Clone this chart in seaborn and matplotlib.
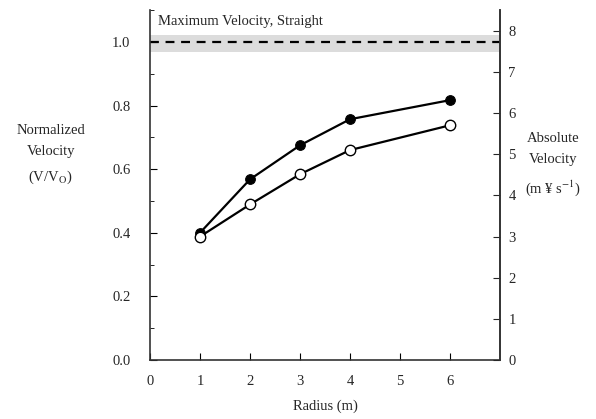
import numpy as np
import pandas as pd
import seaborn as sns
import matplotlib.pyplot as plt
from matplotlib.ticker import MultipleLocator

# values
radius = [1, 2, 3, 4, 6]
filled_vel = [0.40, 0.568, 0.675, 0.757, 0.817]
open_vel = [0.388, 0.489, 0.584, 0.660, 0.738]
max_straight = 1.0
band_low, band_high = 0.968, 1.022
abs_per_norm = 7.73  # m/s that equals normalized 1.0

sns.set_style("ticks")
plt.rcParams['font.family'] = ['Liberation Serif', 'DejaVu Serif']
plt.rcParams['mathtext.fontset'] = 'stix'

df = pd.DataFrame({
    "radius": radius * 2,
    "vel": filled_vel + open_vel,
    "series": ["filled"] * len(radius) + ["open"] * len(radius),
})

fig = plt.figure(figsize=(5.96, 4.19), dpi=100)
ax = fig.add_axes([0.2517, 0.1408, 0.5872, 0.835])

ax.axhspan(band_low, band_high, color="#dcdcdc", lw=0, zorder=0)
ax.axhline(max_straight, color="black", ls=(0, (4, 3)), lw=1.6, zorder=1)

sns.lineplot(data=df[df.series == "filled"], x="radius", y="vel", ax=ax,
             color="black", lw=1.6, marker="o", markersize=7,
             markerfacecolor="black", markeredgecolor="black", zorder=3)
sns.lineplot(data=df[df.series == "open"], x="radius", y="vel", ax=ax,
             color="black", lw=1.6, marker="o", markersize=7.5,
             markerfacecolor="white", markeredgecolor="black",
             markeredgewidth=1, zorder=4)

ax.set_xlim(0, 7)
ax.set_ylim(0, 1.1)
ax.set_xticks([0, 1, 2, 3, 4, 5, 6])
ax.yaxis.set_major_locator(MultipleLocator(0.2))
ax.yaxis.set_minor_locator(MultipleLocator(0.1))
ax.yaxis.set_major_formatter(lambda v, p: f"{v:.1f}")
ax.tick_params(axis="both", which="both", direction="in", labelsize=10.5,
               color="black")
ax.tick_params(axis="y", which="major", length=5, pad=14)
ax.tick_params(axis="y", which="minor", length=3)
ax.tick_params(axis="x", which="major", length=5, pad=11)
ax.set_xlabel("Radius (m)", fontsize=10.5, labelpad=8)
ax.set_ylabel("")
ax.spines["top"].set_visible(False)
for s in ["left", "bottom", "right"]:
    ax.spines[s].set_color("#333333")
    ax.spines[s].set_linewidth(1.2)

ax2 = ax.twinx()
ax2.set_ylim(0, 1.1 * abs_per_norm)
ax2.set_yticks(range(0, 9))
ax2.tick_params(axis="y", direction="in", length=5, labelsize=10.5, pad=6)
ax2.spines["top"].set_visible(False)
ax2.spines["right"].set_color("#333333")
ax2.spines["right"].set_linewidth(1.2)
ax2.spines["left"].set_visible(False)
ax2.spines["bottom"].set_visible(False)

ax.text(0.15, 1.065, "Maximum Velocity, Straight", fontsize=10.5,
        va="center", ha="left")

fig.text(0.085, 0.63, "Normalized\nVelocity\n(V/V$_\\mathrm{O}$)",
         ha="center", va="center", fontsize=10.5, linespacing=1.8)
fig.text(0.928, 0.606, "Absolute\nVelocity\n(m \u00a5 s$^{\\mathrm{-1}}$)",
         ha="center", va="center", fontsize=10.5, linespacing=1.8)

fig.savefig("out.png", dpi=100)
